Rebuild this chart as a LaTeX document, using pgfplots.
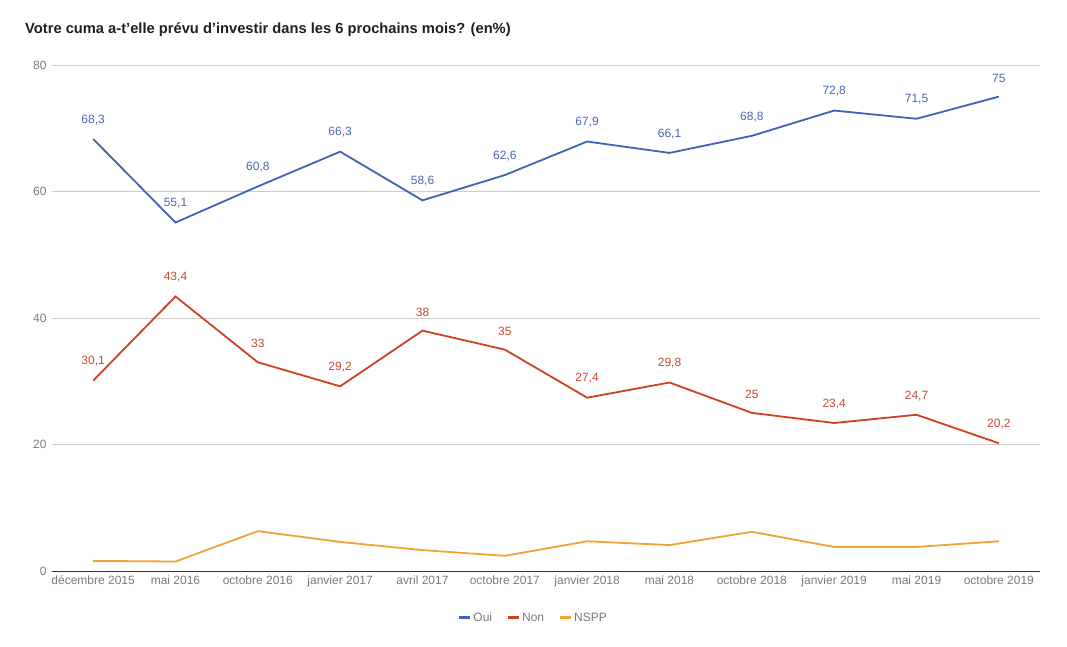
\documentclass[border=0pt]{standalone}
\usepackage{fontspec}
\setmainfont{Liberation Sans}
\usepackage{pgfplots}
\pgfplotsset{compat=1.18}
\definecolor{oui}{HTML}{3F63B8}
\definecolor{non}{HTML}{D03F22}
\definecolor{nspp}{HTML}{F2A231}
\definecolor{tickgray}{HTML}{7A7A7A}
\definecolor{gridgray}{HTML}{CCCCCC}
\begin{document}
\begin{tikzpicture}[x=1pt,y=1pt]
\path[use as bounding box] (0,0) rectangle (1067,646);
\node[anchor=west, font=\fontsize{14.7}{18}\selectfont\bfseries, text=black!88, inner sep=0pt] at (25,616) {Votre cuma a-t'elle prévu d'investir dans les 6 prochains mois? (en\%)};
\begin{axis}[
    at={(52pt,75pt)}, anchor=south west,
    scale only axis, width=988pt, height=506pt,
    xmin=-0.5, xmax=11.5, ymin=0, ymax=80,
    xtick={0,...,11},
    xticklabels={décembre 2015, mai 2016, octobre 2016, janvier 2017, avril 2017, octobre 2017, janvier 2018, mai 2018, octobre 2018, janvier 2019, mai 2019, octobre 2019},
    ytick={0,20,40,60,80},
    axis line style={draw=none},
    major tick length=0pt,
    ymajorgrids, grid style={gridgray, line width=0.8pt},
    ticklabel style={font=\fontsize{12}{14}\selectfont, text=tickgray},
    yticklabel style={xshift=-2pt},
    xticklabel style={yshift=-1pt},
    /pgf/number format/assume math mode=true,
    /pgf/number format/use comma,
    nodes near coords,
    every node near coord/.append style={font=\fontsize{12}{14}\selectfont, anchor=south, yshift=10pt},
    legend style={at={(0.487,-0.074)}, anchor=north, draw=none, legend columns=-1, font=\fontsize{12}{14}\selectfont\color{tickgray}, /tikz/every even column/.append style={column sep=12pt}},
    legend image code/.code={\draw[#1, line width=3pt] (0pt,0pt) -- (11pt,0pt);},
    clip=false,
]
\draw[black!80, line width=1pt] (axis cs:-0.5,0) -- (axis cs:11.5,0);
\addplot[oui, line width=1.8pt, every node near coord/.append style={text=oui!85!gray}] coordinates {
(0,68.3) (1,55.1) (2,60.8) (3,66.3) (4,58.6) (5,62.6) (6,67.9) (7,66.1) (8,68.8) (9,72.8) (10,71.5) (11,75)};
\addlegendentry{Oui}
\addplot[non, line width=1.8pt, every node near coord/.append style={text=non!85!gray}] coordinates {
(0,30.1) (1,43.4) (2,33) (3,29.2) (4,38) (5,35) (6,27.4) (7,29.8) (8,25) (9,23.4) (10,24.7) (11,20.2)};
\addlegendentry{Non}
\addplot[nspp, line width=1.8pt, nodes near coords=\empty] coordinates {
(0,1.6) (1,1.5) (2,6.3) (3,4.6) (4,3.3) (5,2.4) (6,4.7) (7,4.1) (8,6.2) (9,3.8) (10,3.8) (11,4.7)};
\addlegendentry{NSPP}
\end{axis}
\end{tikzpicture}
\end{document}
